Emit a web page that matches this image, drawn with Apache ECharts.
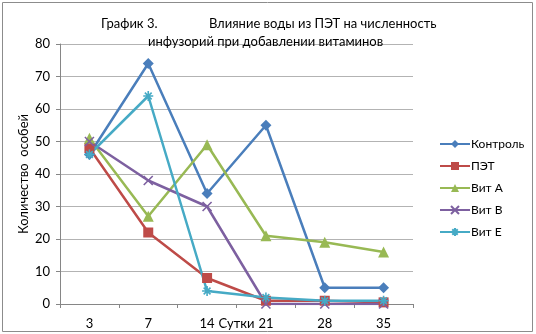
<!DOCTYPE html>
<html>
<head>
<meta charset="utf-8">
<script src="https://cdn.jsdelivr.net/npm/echarts@6/dist/echarts.min.js"></script>
<style>
  html, body { margin: 0; padding: 0; background: #fff; }
  #chart { width: 536px; height: 334px; }
</style>
</head>
<body>
<div id="chart"></div>
<script>
const days = ["3", "7", "14", "21", "28", "35"];
const control = [46, 74, 34, 55, 5, 5];
const pet = [48, 22, 8, 1, 1, 0.5];
const vitA = [51, 27, 49, 21, 19, 16];
const vitB = [50, 38, 30, 0, 0, 0];
const vitE = [46, 64, 4, 2, 1, 1];

const font = "Lato, 'Open Sans', sans-serif";
const xMark = "path://M0,0 L10,10 M10,0 L0,10";
const starMark = "path://M5,0 L5,10 M0,5 L10,5 M1.6,1.6 L8.4,8.4 M8.4,1.6 L1.6,8.4";
const titleStyle = { fontSize: 13, fontWeight: "normal", color: "#000", fontFamily: font };

function line(name, data, color, symbol, size, stroked) {
  return {
    name,
    type: "line",
    data,
    symbol,
    symbolSize: size,
    lineStyle: { color, width: 2.5 },
    itemStyle: stroked
      ? { color: "rgba(0,0,0,0)", borderColor: color, borderWidth: 1.6 }
      : { color },
    emphasis: { disabled: true },
  };
}

const chart = echarts.init(document.getElementById("chart"));
chart.setOption({
  animation: false,
  textStyle: { fontFamily: font },
  title: [
    { text: "График 3.", left: 96, top: 12, textStyle: titleStyle },
    { text: "Влияние воды из ПЭТ на численность", left: 204, top: 12, textStyle: titleStyle },
    { text: "инфузорий при добавлении витаминов", left: 143, top: 30, textStyle: titleStyle },
  ],
  graphic: [
    {
      type: "rect",
      shape: { x: 2.5, y: 2.5, width: 530, height: 329 },
      style: { fill: "none", stroke: "#8c8c8c", lineWidth: 1 },
      silent: true,
    },
  ],
  legend: {
    orient: "vertical",
    left: 434,
    top: 133,
    itemWidth: 30,
    itemHeight: 10,
    itemGap: 10,
    textStyle: { fontSize: 12, color: "#000", fontFamily: font, padding: [0, 0, 0, -4] },
    data: ["Контроль", "ПЭТ", "Вит А", "Вит В", "Вит Е"],
  },
  grid: { left: 60, right: 123, top: 44, bottom: 30, outerBoundsMode: "none" },
  xAxis: {
    type: "category",
    data: days,
    boundaryGap: true,
    name: "Сутки",
    nameLocation: "middle",
    nameGap: 13,
    nameMoveOverlap: false,
    nameTextStyle: { fontSize: 13, color: "#000", fontFamily: font },
    axisLine: { lineStyle: { color: "#868686" } },
    axisTick: { show: true, alignWithLabel: false, length: 4, lineStyle: { color: "#868686" } },
    axisLabel: { fontSize: 13, color: "#000", margin: 13, fontFamily: font },
  },
  yAxis: {
    type: "value",
    min: 0,
    max: 80,
    interval: 10,
    name: "Количество  особей",
    nameLocation: "middle",
    nameGap: 30,
    nameMoveOverlap: false,
    nameTextStyle: { fontSize: 13, color: "#000", fontFamily: font },
    axisLine: { show: true, lineStyle: { color: "#868686" } },
    axisTick: { show: true, length: 4, lineStyle: { color: "#868686" } },
    axisLabel: { fontSize: 13, color: "#000", margin: 10, fontFamily: font },
    splitLine: { lineStyle: { color: "#b3b3b3" } },
  },
  series: [
    line("Контроль", control, "#4a7ebb", "diamond", 11, false),
    line("ПЭТ", pet, "#be4b48", "rect", 10, false),
    line("Вит А", vitA, "#98b954", "triangle", 11, false),
    line("Вит В", vitB, "#7d60a0", xMark, 9, true),
    line("Вит Е", vitE, "#46aac5", starMark, 10, true),
  ],
});
</script>
</body>
</html>
